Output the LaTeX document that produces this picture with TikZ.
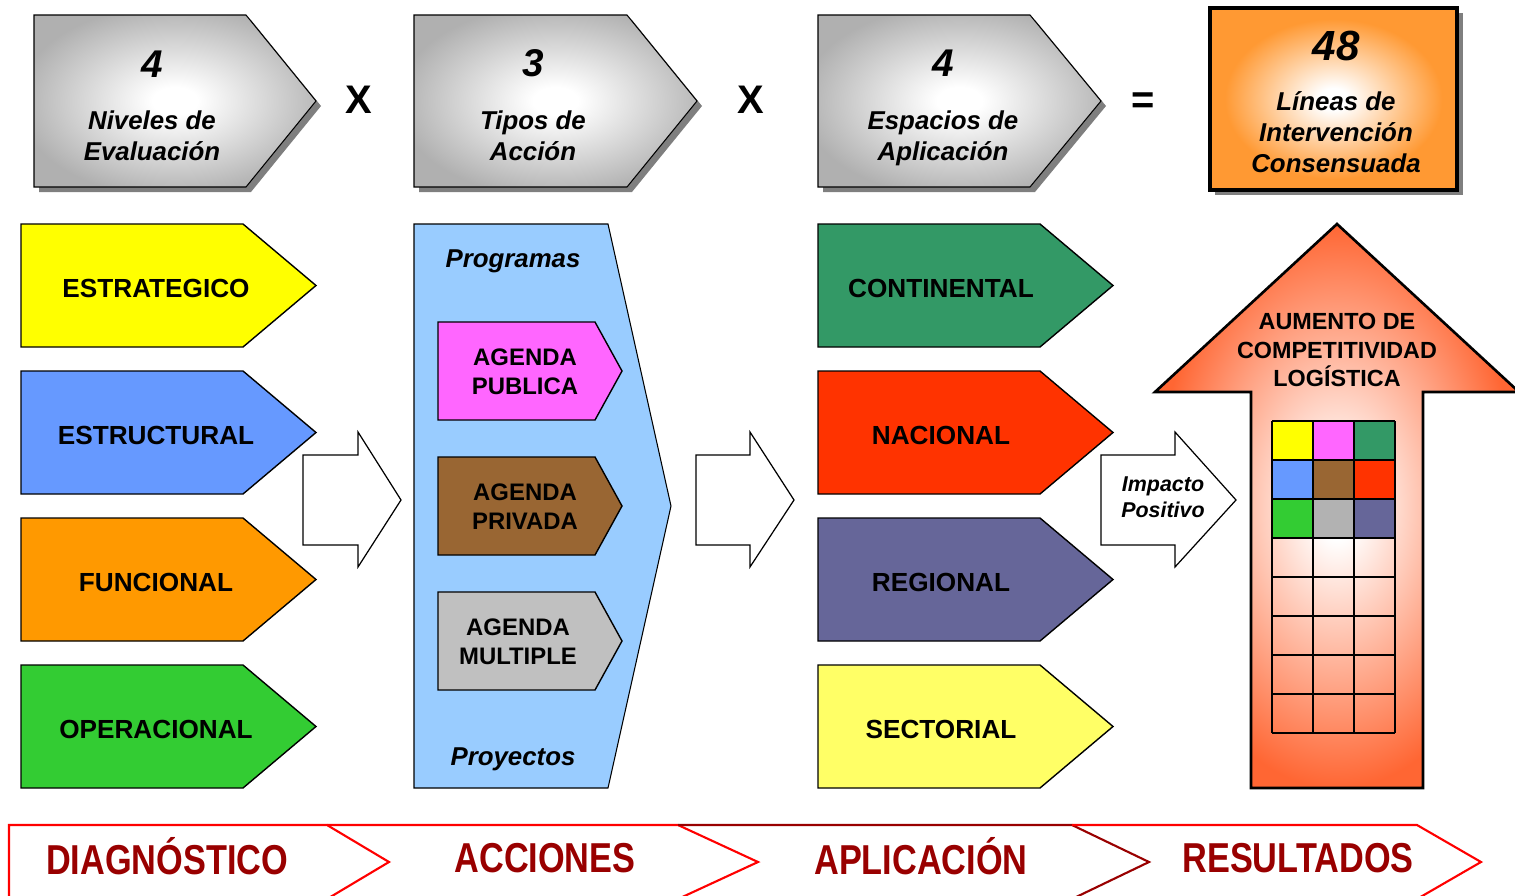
\documentclass[tikz,border=0pt]{standalone}
\usepackage{fontspec}
\setmainfont{Liberation Sans}
\newfontfamily\narrowfont{Liberation Sans}[FakeStretch=0.82]
\definecolor{cYellow}{HTML}{FFFF00}
\definecolor{cBlue}{HTML}{6699FF}
\definecolor{cOrange}{HTML}{FF9900}
\definecolor{cGreen}{HTML}{33CC33}
\definecolor{cPink}{HTML}{FF66FF}
\definecolor{cBrown}{HTML}{996633}
\definecolor{cSilver}{HTML}{C0C0C0}
\definecolor{cSky}{HTML}{99CCFF}
\definecolor{cTeal}{HTML}{339966}
\definecolor{cRed}{HTML}{FF3300}
\definecolor{cSlate}{HTML}{666699}
\definecolor{cLemon}{HTML}{FFFF66}
\definecolor{cGrey}{HTML}{B2B2B2}
\definecolor{cTangerine}{HTML}{FF9933}
\definecolor{cFlame}{HTML}{FF6633}
\definecolor{cBanner}{HTML}{FF0000}
\definecolor{cMaroon}{HTML}{990000}
\definecolor{cShadow}{HTML}{7F7F7F}
\definecolor{cHead}{HTML}{B0B0B0}
\pgfdeclareradialshading{headshade}{\pgfpoint{0bp}{0bp}}{color(0bp)=(white); color(4bp)=(white); color(28bp)=(cHead); color(50bp)=(cHead)}
\pgfdeclareradialshading{boxshade}{\pgfpoint{0bp}{0bp}}{color(0bp)=(white); color(3bp)=(white); color(22bp)=(cTangerine); color(50bp)=(cTangerine)}
\pgfdeclareradialshading{arrowshade}{\pgfpoint{0bp}{0bp}}{color(0bp)=(white); color(3bp)=(white); color(25bp)=(cFlame); color(50bp)=(cFlame)}
\tikzstyle{tag} = [draw=black, line width=0.8pt]
\tikzstyle{tagtext} = [font=\bfseries\fontsize{14.9}{17.5}\selectfont, inner sep=0pt]
\tikzstyle{headnum} = [font=\bfseries\itshape\fontsize{22}{26}\selectfont, inner sep=0pt]
\tikzstyle{headtext} = [font=\bfseries\itshape\fontsize{14.7}{17.6}\selectfont, align=center, inner sep=0pt]
\tikzstyle{agendatext} = [font=\bfseries\fontsize{13.6}{16.4}\selectfont, align=center, inner sep=0pt]
\tikzstyle{hollow} = [draw=black, fill=white, line width=0.7pt]
\tikzstyle{shadow} = [fill=cShadow]
\tikzstyle{op} = [font=\bfseries\fontsize{22.7}{27}\selectfont, inner sep=0pt]
\tikzstyle{cell} = [draw=black, line width=1.2pt]
\tikzstyle{banner} = [draw=cBanner, line width=1.2pt]
\tikzstyle{bannertext} = [font=\narrowfont\bfseries\fontsize{23.8}{28}\selectfont, text=cMaroon, inner sep=0pt]

\begin{document}
\begin{tikzpicture}[x=0.02cm, y=-0.02cm]
\useasboundingbox (0,0) rectangle (1515,896);
\clip (0,0) rectangle (1515,896);

%%% headers %%%%%%%%%%%%%%%%%%%%%%%
\fill[shadow] (39,20) -- (251,20) -- (321,106) -- (251,192) -- (39,192) -- cycle;
\shadedraw[shading=headshade, line width=0.6pt] (34,15) -- (246,15) -- (316,101) -- (246,187) -- (34,187) -- cycle;
\node (nivnum) [headnum] at (152,64) {4};
\node (niv) [headtext] at (152,136) {Niveles de\\Evaluación};

\fill[shadow] (419,20) -- (632,20) -- (702,106) -- (632,192) -- (419,192) -- cycle;
\shadedraw[shading=headshade, line width=0.6pt] (414,15) -- (627,15) -- (697,101) -- (627,187) -- (414,187) -- cycle;
\node (tiponum) [headnum] at (533,63) {3};
\node (tipo) [headtext] at (533,136) {Tipos de\\Acción};

\fill[shadow] (823,20) -- (1035,20) -- (1106,106) -- (1035,192) -- (823,192) -- cycle;
\shadedraw[shading=headshade, line width=0.6pt] (818,15) -- (1030,15) -- (1101,101) -- (1030,187) -- (818,187) -- cycle;
\node (espnum) [headnum] at (943,63) {4};
\node (esp) [headtext] at (943,138) {Espacios de\\Aplicación};

\node (times1) [op] at (359,100) {X};
\node (times2) [op] at (751,100) {X};
\node (equals) [op] at (1143,103) {=};

\fill[shadow] (1215,13) rectangle (1463,195);
\shadedraw[shading=boxshade, line width=2.2pt] (1210,8) rectangle (1457,190);
\node (linnum) [headnum, font=\bfseries\itshape\fontsize{24}{28}\selectfont] at (1336,46) {48};
\node (lin) [headtext] at (1336,132) {Líneas de\\Intervención\\Consensuada};

%%% niveles %%%%%%%%%%%%%%%%%%%%%%%
\draw[tag, fill=cYellow] (21,224) -- (243,224) -- (316,285.5) -- (243,347) -- (21,347) -- cycle;
\draw[tag, fill=cBlue] (21,371) -- (243,371) -- (316,432.5) -- (243,494) -- (21,494) -- cycle;
\draw[tag, fill=cOrange] (21,518) -- (243,518) -- (316,579.5) -- (243,641) -- (21,641) -- cycle;
\draw[tag, fill=cGreen] (21,665) -- (243,665) -- (316,726.5) -- (243,788) -- (21,788) -- cycle;
\node (estrat) [tagtext] at (156,288) {ESTRATEGICO};
\node (estruc) [tagtext] at (156,435) {ESTRUCTURAL};
\node (funcio) [tagtext] at (156,582) {FUNCIONAL};
\node (operac) [tagtext] at (156,729) {OPERACIONAL};

%%% acciones %%%%%%%%%%%%%%%%%%%%%%
\draw[tag, fill=cSky, line width=0.6pt] (414,224) -- (608,224) -- (671,506) -- (608,788) -- (414,788) -- cycle;
\node (prog) [headtext] at (513,261) {Programas};
\node (proy) [headtext] at (513,759) {Proyectos};
\draw[tag, fill=cPink] (438,322) -- (595,322) -- (622,371) -- (595,420) -- (438,420) -- cycle;
\draw[tag, fill=cBrown] (438,457) -- (595,457) -- (622,506) -- (595,555) -- (438,555) -- cycle;
\draw[tag, fill=cSilver] (438,592) -- (595,592) -- (622,641) -- (595,690) -- (438,690) -- cycle;
\node (publica) [agendatext] at (525,372) {AGENDA\\PUBLICA};
\node (privada) [agendatext] at (525,507) {AGENDA\\PRIVADA};
\node (multiple) [agendatext] at (518,642) {AGENDA\\MULTIPLE};

%%% block arrows %%%%%%%%%%%%%%%%%%
\draw[hollow] (303,455) -- (358,455) -- (358,432) -- (401,500) -- (358,567) -- (358,545) -- (303,545) -- cycle;
\draw[hollow] (696,455) -- (750,455) -- (750,432) -- (794,500) -- (750,567) -- (750,545) -- (696,545) -- cycle;
\draw[hollow] (1101,455) -- (1175,455) -- (1175,432) -- (1236,500) -- (1175,567) -- (1175,545) -- (1101,545) -- cycle;
\node (impacto) [headtext, font=\bfseries\itshape\fontsize{12.2}{14.7}\selectfont] at (1163,497) {Impacto\\Positivo};

%%% espacios %%%%%%%%%%%%%%%%%%%%%%
\draw[tag, fill=cTeal] (818,224) -- (1040,224) -- (1113,285.5) -- (1040,347) -- (818,347) -- cycle;
\draw[tag, fill=cRed] (818,371) -- (1040,371) -- (1113,432.5) -- (1040,494) -- (818,494) -- cycle;
\draw[tag, fill=cSlate] (818,518) -- (1040,518) -- (1113,579.5) -- (1040,641) -- (818,641) -- cycle;
\draw[tag, fill=cLemon] (818,665) -- (1040,665) -- (1113,726.5) -- (1040,788) -- (818,788) -- cycle;
\node (contin) [tagtext] at (941,288) {CONTINENTAL};
\node (nacion) [tagtext] at (941,435) {NACIONAL};
\node (region) [tagtext] at (941,582) {REGIONAL};
\node (sector) [tagtext] at (941,729) {SECTORIAL};

%%% resultados %%%%%%%%%%%%%%%%%%%%
\shadedraw[shading=arrowshade, line width=1.5pt] (1337,224) -- (1519,392) -- (1423,392) -- (1423,788) -- (1251,788) -- (1251,392) -- (1155,392) -- cycle;
\node (aumento) [agendatext, font=\bfseries\fontsize{13.3}{16.4}\selectfont] at (1337,350) {AUMENTO DE\\COMPETITIVIDAD\\LOGÍSTICA};
\foreach \gx/\gy/\gc in {1272/421/cYellow, 1313/421/cPink, 1354/421/cTeal, 1272/460/cBlue, 1313/460/cBrown, 1354/460/cRed, 1272/499/cGreen, 1313/499/cGrey, 1354/499/cSlate}
  \fill[\gc] (\gx,\gy) rectangle ++(41,39);
\foreach \gy in {421,460,...,733}
  \draw[cell] (1272,\gy) -- (1395,\gy);
\foreach \gx in {1272,1313,1354,1395}
  \draw[cell] (\gx,421) -- (\gx,733);

%%% banner %%%%%%%%%%%%%%%%%%%%%%%%
\draw[banner] (9,899) -- (9,825) -- (327,825) -- (389,862) -- (327,899);
\draw[banner] (327,825) -- (678,825) -- (758,862) -- (678,899);
\draw[banner, draw=cMaroon] (678,825) -- (1072,825) -- (1149,862) -- (1072,899);
\draw[banner] (1072,825) -- (1417,825) -- (1481,862) -- (1417,899);
\node (diag) [bannertext] at (167,856) {DIAGNÓSTICO};
\node (acc) [bannertext] at (545,858) {ACCIONES};
\node (apl) [bannertext] at (921,856) {APLICACIÓN};
\node (res) [bannertext] at (1298,858) {RESULTADOS};
\end{tikzpicture}
\end{document}
